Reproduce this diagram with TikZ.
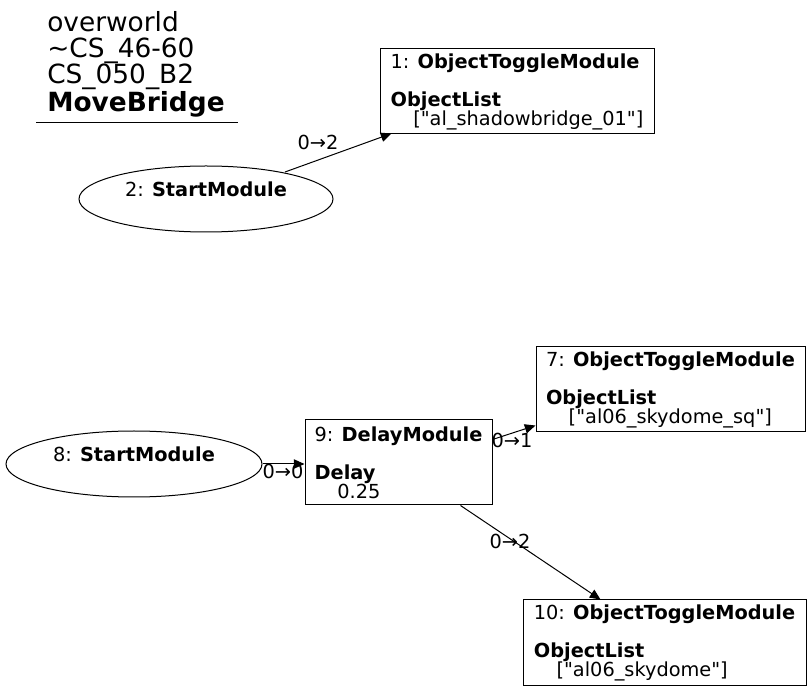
\documentclass[tikz,border=0pt]{standalone}
\usepackage{fontspec}
\setmainfont[Ligatures=TeXOff]{DejaVu Sans}
\usetikzlibrary{arrows.meta,shapes.geometric,calc}
\newcommand\dq{\char34\relax}
\tikzset{
  px/.style={x=0.75pt,y=-0.75pt},
  modbox/.style={draw,rectangle,line width=0.75pt,inner sep=0pt,align=left,
    font=\fontsize{14.5}{14.25}\selectfont},
  startell/.style={draw,ellipse,line width=0.75pt,inner sep=0pt,align=center,
    font=\fontsize{14.5}{14.25}\selectfont},
  edge/.style={draw,line width=0.75pt,-{Triangle[length=8pt,width=7pt]}},
  elabel/.style={inner sep=0pt,font=\fontsize{14.5}{14.25}\selectfont},
  titletext/.style={inner sep=0pt,align=left,anchor=north west,
    font=\fontsize{19.8}{19.7}\selectfont}
}
\begin{document}
\begin{tikzpicture}[px]
\useasboundingbox (0,0) rectangle (811,691);
\fill[white] (0,0) rectangle (811,691);

\node[titletext] (title) at (47,11) {overworld\\\textasciitilde CS\_46-60\\CS\_050\_B2\\\textbf{MoveBridge}};
\draw[line width=0.75pt] (36,123) -- (238,123);

\node[modbox,minimum width=205.5pt,minimum height=63.75pt] (n1) at (517,91.5)
  {1: \textbf{ObjectToggleModule}\\ \mbox{}\\ \textbf{ObjectList}\\ \hspace*{17pt}[\dq al\_shadowbridge\_01\dq]};
\node[startell,minimum width=190.5pt,minimum height=49.5pt] (n2) at (206,199)
  {2: \textbf{StartModule}\\ \mbox{}};

\node[modbox,minimum width=201.75pt,minimum height=63.75pt] (n7) at (670.5,389.5)
  {7: \textbf{ObjectToggleModule}\\ \mbox{}\\ \textbf{ObjectList}\\ \hspace*{17pt}[\dq al06\_skydome\_sq\dq]};
\node[startell,minimum width=192pt,minimum height=49.5pt] (n8) at (134,464)
  {8: \textbf{StartModule}\\ \mbox{}};
\node[modbox,minimum width=140.25pt,minimum height=63.75pt] (n9) at (398.5,462.5)
  {9: \textbf{DelayModule}\\ \mbox{}\\ \textbf{Delay}\\ \hspace*{17pt}0.25};
\node[modbox,minimum width=212.25pt,minimum height=63.75pt] (n10) at (664.5,642.5)
  {10: \textbf{ObjectToggleModule}\\ \mbox{}\\ \textbf{ObjectList}\\ \hspace*{17pt}[\dq al06\_skydome\dq]};

\draw[edge] ($(n2.center)+(79,-27)$) -- ($(n1.south west)+(12,-1)$);
\node[elabel] (l21) at (318,142) {0→2};

\draw[edge] (n8.east) -- (n9.west |- n8.east);
\node[elabel] (l89) at (283,471) {0→0};

\draw[edge] ($(n9.north east)+(0,20)$) -- ($(n7.south west)+(0,-7)$);
\node[elabel] (l97) at (512,440) {0→1};

\draw[edge] ($(n9.south west)+(156,0)$) -- ($(n10.north west)+(78,0)$);
\node[elabel] (l910) at (510,541) {0→2};
\end{tikzpicture}
\end{document}
